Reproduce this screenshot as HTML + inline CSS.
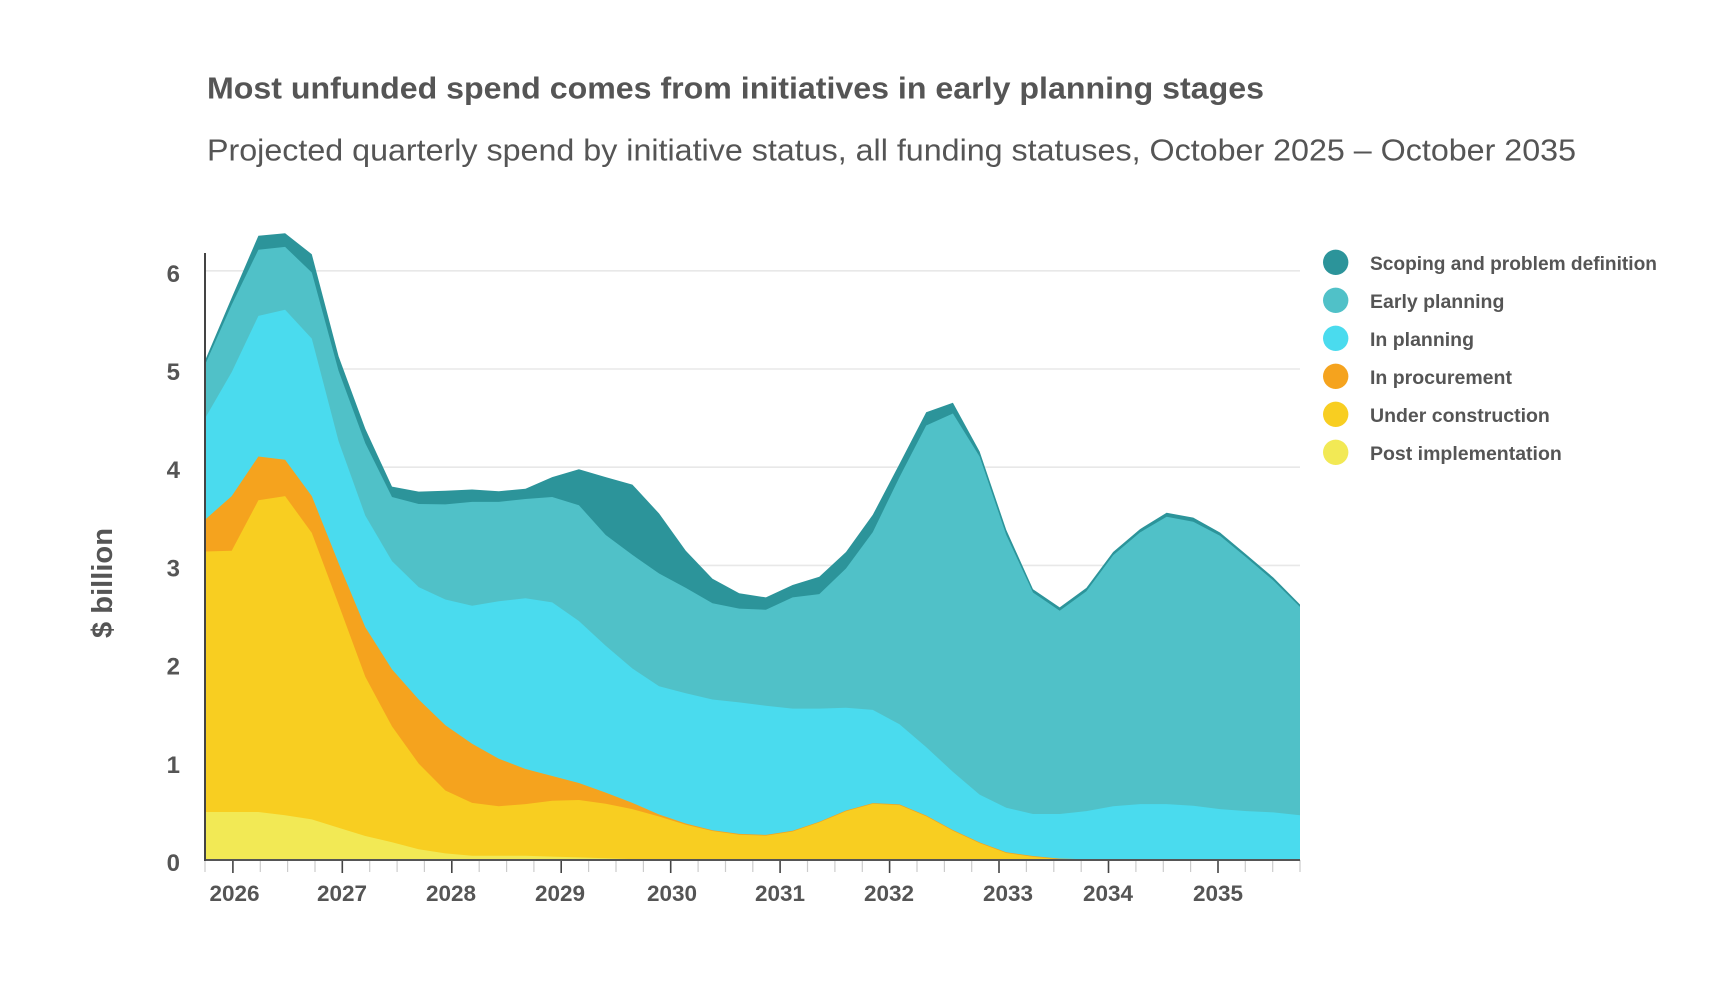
<!DOCTYPE html>
<html>
<head>
<meta charset="utf-8">
<style>
  html, body { margin: 0; padding: 0; background: #ffffff; }
  svg { display: block; }
  text { font-family: "Liberation Sans", Arial, sans-serif; fill: #555555; }
</style>
</head>
<body>
<svg width="1733" height="983" viewBox="0 0 1733 983" xmlns="http://www.w3.org/2000/svg">
  <rect x="0" y="0" width="1733" height="983" fill="#ffffff"/>

  <!-- Titles -->
  <text x="207" y="98.5" font-size="31" font-weight="bold" textLength="1057" lengthAdjust="spacingAndGlyphs" fill="#505050">Most unfunded spend comes from initiatives in early planning stages</text>
  <text x="207" y="160.5" font-size="31" textLength="1369" lengthAdjust="spacingAndGlyphs" fill="#5a5a5a">Projected quarterly spend by initiative status, all funding statuses, October 2025 – October 2035</text>

  <!-- Gridlines -->
  <g stroke="#e8e8e8" stroke-width="1.6">
    <line x1="205" y1="761.8" x2="1300" y2="761.8"/>
    <line x1="205" y1="663.6" x2="1300" y2="663.6"/>
    <line x1="205" y1="565.4" x2="1300" y2="565.4"/>
    <line x1="205" y1="467.2" x2="1300" y2="467.2"/>
    <line x1="205" y1="369" x2="1300" y2="369"/>
    <line x1="205" y1="270.8" x2="1300" y2="270.8"/>
  </g>

  <!-- Stacked areas (painted from total down) -->
  <polygon fill="#2c949a" points="205,360.6 231.7,297.7 258.4,235.7 285.1,233.2 311.8,254.3 338.6,356.4 365.3,428.8 392,486.6 418.7,491.6 445.4,490.8 472.1,489.5 498.8,491.2 525.5,488.7 552.2,477.1 578.9,469.3 605.7,477.1 632.4,484.6 659.1,513.5 685.8,550.7 712.5,578.8 739.2,593.3 765.9,597.4 792.6,585 819.3,576.8 846,552 872.8,514.8 899.5,463.9 926.2,412.2 952.9,402.7 979.6,451.5 1006.3,530 1033,589.2 1059.7,607.4 1086.4,587.9 1113.1,552 1139.9,529.2 1166.6,512.7 1193.3,517.6 1220,532.5 1246.7,554.9 1273.4,577.6 1300,604.5 1300,860 205,860"/>
  <polygon fill="#50c1c8" points="205,364.7 231.7,304.7 258.4,249.8 285.1,246.9 311.8,272.5 338.6,370.9 365.3,443.2 392,497 418.7,504 445.4,504.4 472.1,501.9 498.8,501.9 525.5,499 552.2,497 578.9,505.2 605.7,535 632.4,554.9 659.1,573.5 685.8,587.9 712.5,603.2 739.2,608.6 765.9,609.8 792.6,597.4 819.3,594.1 846,568.5 872.8,532.1 899.5,477.1 926.2,425.5 952.9,413.5 979.6,456.5 1006.3,535 1033,592.5 1059.7,610.7 1086.4,591.2 1113.1,555.3 1139.9,532.5 1166.6,516.8 1193.3,521.8 1220,535.8 1246.7,557.7 1273.4,580.5 1300,606.9 1300,860 205,860"/>
  <polygon fill="#4adbee" points="205,418.4 231.7,372.1 258.4,315.9 285.1,309.7 311.8,338.6 338.6,441.2 365.3,515.6 392,561.1 418.7,587.1 445.4,599.5 472.1,605.7 498.8,601.2 525.5,598.3 552.2,602.4 578.9,621 605.7,645.8 632.4,668.5 659.1,686.3 685.8,693.3 712.5,699.5 739.2,702.4 765.9,705.7 792.6,708.6 819.3,708.6 846,707.8 872.8,709.9 899.5,724.3 926.2,747.1 952.9,771.9 979.6,794.6 1006.3,807.8 1033,814 1059.7,814 1086.4,811.1 1113.1,806.2 1139.9,804.1 1166.6,804.1 1193.3,805.8 1220,809.1 1246.7,811.1 1273.4,812.4 1300,815.3 1300,860 205,860"/>
  <polygon fill="#f5a31e" points="205,519.7 231.7,496.1 258.4,456.5 285.1,459.8 311.8,496.1 338.6,563.1 365.3,627.2 392,669.4 418.7,699.5 445.4,725.2 472.1,743.8 498.8,758.7 525.5,769 552.2,776 578.9,783 605.7,792.6 632.4,802.9 659.1,814.5 685.8,823.5 712.5,830.2 739.2,833.9 765.9,834.9 792.6,830.8 819.3,821.7 846,810.5 872.8,803.1 899.5,804.4 926.2,815.5 952.9,830 979.6,842.4 1006.3,852.3 1033,856 1059.7,858.6 1086.4,859.2 1113.1,860 1300,860 205,860"/>
  <polygon fill="#f8ce21" points="205,551.5 231.7,550.7 258.4,500.3 285.1,496.1 311.8,532.9 338.6,604.4 365.3,676.8 392,726.4 418.7,763.6 445.4,790.5 472.1,802.9 498.8,806.2 525.5,804.1 552.2,800.8 578.9,800 605.7,803.7 632.4,809.1 659.1,816.5 685.8,824.8 712.5,831 739.2,834.7 765.9,835.6 792.6,831.5 819.3,822.4 846,811.2 872.8,803.8 899.5,805.1 926.2,816.2 952.9,830.7 979.6,843.1 1006.3,853 1033,856.7 1059.7,859.2 1086.4,859.7 1113.1,860 1300,860 205,860"/>
  <polygon fill="#f2e955" points="205,812 231.7,812 258.4,812 285.1,815.3 311.8,819.4 338.6,827.7 365.3,836 392,842.2 418.7,849.2 445.4,853.4 472.1,855.8 498.8,855.8 525.5,855.8 552.2,856.6 578.9,857.4 605.7,858.3 632.4,859.1 659.1,859.5 685.8,860 1300,860 205,860"/>

  <!-- Minor ticks -->
  <g stroke="#cccccc" stroke-width="1.2">
    <line x1="205" y1="860" x2="205" y2="872"/>
    <line x1="260.3" y1="860" x2="260.3" y2="872"/>
    <line x1="287.6" y1="860" x2="287.6" y2="872"/>
    <line x1="315" y1="860" x2="315" y2="872"/>
    <line x1="369.7" y1="860" x2="369.7" y2="872"/>
    <line x1="397.1" y1="860" x2="397.1" y2="872"/>
    <line x1="424.4" y1="860" x2="424.4" y2="872"/>
    <line x1="479.2" y1="860" x2="479.2" y2="872"/>
    <line x1="506.6" y1="860" x2="506.6" y2="872"/>
    <line x1="533.9" y1="860" x2="533.9" y2="872"/>
    <line x1="588.6" y1="860" x2="588.6" y2="872"/>
    <line x1="616" y1="860" x2="616" y2="872"/>
    <line x1="643.4" y1="860" x2="643.4" y2="872"/>
    <line x1="698.1" y1="860" x2="698.1" y2="872"/>
    <line x1="725.5" y1="860" x2="725.5" y2="872"/>
    <line x1="752.8" y1="860" x2="752.8" y2="872"/>
    <line x1="807.5" y1="860" x2="807.5" y2="872"/>
    <line x1="834.9" y1="860" x2="834.9" y2="872"/>
    <line x1="862.3" y1="860" x2="862.3" y2="872"/>
    <line x1="917" y1="860" x2="917" y2="872"/>
    <line x1="944.4" y1="860" x2="944.4" y2="872"/>
    <line x1="971.7" y1="860" x2="971.7" y2="872"/>
    <line x1="1026.4" y1="860" x2="1026.4" y2="872"/>
    <line x1="1053.8" y1="860" x2="1053.8" y2="872"/>
    <line x1="1081.2" y1="860" x2="1081.2" y2="872"/>
    <line x1="1135.9" y1="860" x2="1135.9" y2="872"/>
    <line x1="1163.3" y1="860" x2="1163.3" y2="872"/>
    <line x1="1190.6" y1="860" x2="1190.6" y2="872"/>
    <line x1="1245.3" y1="860" x2="1245.3" y2="872"/>
    <line x1="1272.7" y1="860" x2="1272.7" y2="872"/>
    <line x1="1300" y1="860" x2="1300" y2="872"/>
  </g>
  <!-- Major ticks -->
  <g stroke="#444444" stroke-width="1.6">
    <line x1="232.9" y1="860" x2="232.9" y2="873"/>
    <line x1="342.3" y1="860" x2="342.3" y2="873"/>
    <line x1="451.8" y1="860" x2="451.8" y2="873"/>
    <line x1="561.2" y1="860" x2="561.2" y2="873"/>
    <line x1="670.7" y1="860" x2="670.7" y2="873"/>
    <line x1="780.1" y1="860" x2="780.1" y2="873"/>
    <line x1="889.6" y1="860" x2="889.6" y2="873"/>
    <line x1="999" y1="860" x2="999" y2="873"/>
    <line x1="1108.5" y1="860" x2="1108.5" y2="873"/>
    <line x1="1218" y1="860" x2="1218" y2="873"/>
  </g>

  <!-- Axes -->
  <line x1="205" y1="860" x2="1300" y2="860" stroke="#555555" stroke-width="2"/>
  <line x1="205" y1="253" x2="205" y2="861" stroke="#444444" stroke-width="2"/>

  <!-- Y tick labels -->
  <g font-size="24" font-weight="bold" text-anchor="end">
    <text x="180" y="871">0</text>
    <text x="180" y="772.8">1</text>
    <text x="180" y="674.6">2</text>
    <text x="180" y="576.4">3</text>
    <text x="180" y="478.2">4</text>
    <text x="180" y="380">5</text>
    <text x="180" y="281.8">6</text>
  </g>

  <!-- X tick labels -->
  <g font-size="22.5" font-weight="bold" text-anchor="middle">
    <text x="234.5" y="901">2026</text>
    <text x="342" y="901">2027</text>
    <text x="451" y="901">2028</text>
    <text x="560" y="901">2029</text>
    <text x="672" y="901">2030</text>
    <text x="780" y="901">2031</text>
    <text x="889" y="901">2032</text>
    <text x="1008" y="901">2033</text>
    <text x="1108" y="901">2034</text>
    <text x="1218" y="901">2035</text>
  </g>

  <!-- Y axis title -->
  <text x="112" y="583" font-size="29" font-weight="bold" text-anchor="middle" textLength="110" lengthAdjust="spacingAndGlyphs" transform="rotate(-90 112 583)">$ billion</text>

  <!-- Legend -->
  <circle cx="1335.7" cy="262.3" r="12.7" fill="#2c949a"/>
  <circle cx="1335.7" cy="300.3" r="12.7" fill="#50c1c8"/>
  <circle cx="1335.7" cy="338.3" r="12.7" fill="#4adbee"/>
  <circle cx="1335.7" cy="376.3" r="12.7" fill="#f5a31e"/>
  <circle cx="1335.7" cy="414.3" r="12.7" fill="#f8ce21"/>
  <circle cx="1335.7" cy="452.3" r="12.7" fill="#f2e955"/>
  <g font-size="19.5" font-weight="bold">
    <text x="1370" y="270" textLength="287" lengthAdjust="spacingAndGlyphs">Scoping and problem definition</text>
    <text x="1370" y="308">Early planning</text>
    <text x="1370" y="346">In planning</text>
    <text x="1370" y="384">In procurement</text>
    <text x="1370" y="422">Under construction</text>
    <text x="1370" y="460">Post implementation</text>
  </g>
</svg>
</body>
</html>
